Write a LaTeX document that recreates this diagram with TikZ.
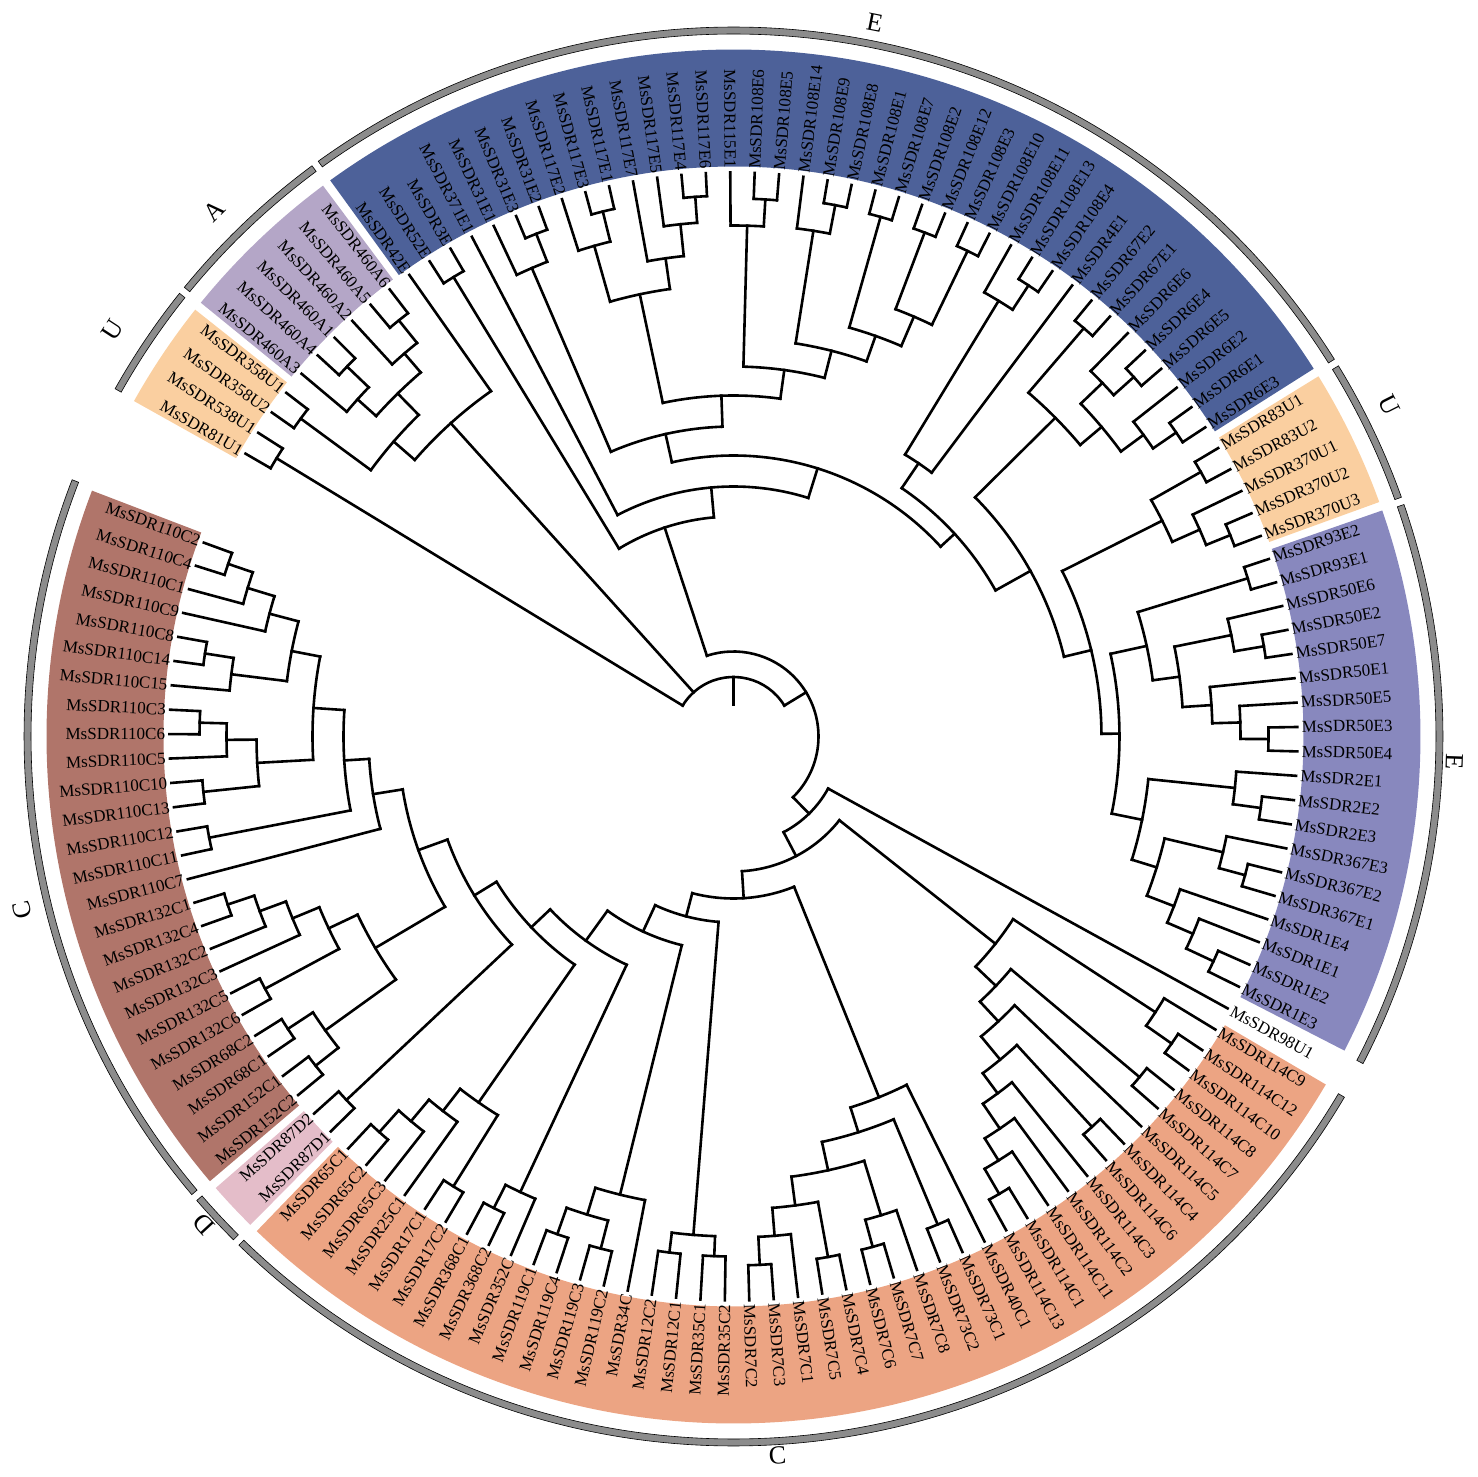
\documentclass[tikz,border=0pt]{standalone}
\usepackage{fontspec}
\setmainfont{Liberation Serif}
\definecolor{eDark}{HTML}{4D6199}
\definecolor{eLight}{HTML}{8888BE}
\definecolor{uOrange}{HTML}{FACFA0}
\definecolor{aLilac}{HTML}{B4A6C7}
\definecolor{cBrown}{HTML}{B0756A}
\definecolor{dPink}{HTML}{E4BDC9}
\definecolor{cSalmon}{HTML}{ECA483}
\definecolor{arcGrey}{HTML}{8C8C8C}
\def\tz{159.9}
\def\st{2.4823}
\def\px{0.5}
\def\rT{282}
\newcommand\ix[1]{\csname ix@#1\endcsname}
\newcommand\nd[5]{%
  \pgfmathsetmacro\ndA{\ix{#2}}%
  \pgfmathsetmacro\ndB{\ix{#3}}%
  \pgfmathsetmacro\ndM{(\ndA+\ndB)/2}%
  \expandafter\xdef\csname ix@#1\endcsname{\ndM}%
  \pgfmathsetmacro\angA{\tz+\st*\ndA}%
  \pgfmathsetmacro\angB{\tz+\st*\ndB}%
  \pgfmathsetmacro\angM{\tz+\st*\ndM}%
  \pgfmathsetmacro\rN{#4*\px}%
  \pgfmathsetmacro\rP{#5*\px}%
  \draw[branch] (\angA:\rN pt) arc[start angle=\angA, end angle=\angB, radius=\rN pt];
  \draw[branch] (\angM:\rN pt) -- (\angM:\rP pt);
  \ifcsname lf@#2\endcsname\draw[branch] (\angA:\rN pt) -- (\angA:\rT pt);\fi
  \ifcsname lf@#3\endcsname\draw[branch] (\angB:\rN pt) -- (\angB:\rT pt);\fi
}
\newcommand\band[3]{%
  \pgfmathsetmacro\angA{\tz+\st*(#1-0.35)}%
  \pgfmathsetmacro\angB{\tz+\st*(#2+0.35)}%
  \fill[#3] (\angA:285pt) arc[start angle=\angA, end angle=\angB, radius=285pt]
    -- (\angB:343.5pt) arc[start angle=\angB, end angle=\angA, radius=343.5pt] -- cycle;
}
\newcommand\garc[2]{%
  \pgfmathsetmacro\angA{\tz+\st*(#1-0.45)}%
  \pgfmathsetmacro\angB{\tz+\st*(#2+0.3)}%
  \filldraw[grey arc] (\angA:351.25pt) arc[start angle=\angA, end angle=\angB, radius=351.25pt]
    -- (\angB:354.75pt) arc[start angle=\angB, end angle=\angA, radius=354.75pt] -- cycle;
}
\begin{document}
\begin{tikzpicture}[line cap=rect,
  branch/.style={line width=1.3pt},
  leaf/.style={inner sep=0pt, font=\fontsize{8.5}{10}\selectfont},
  grp/.style={inner sep=0pt, font=\fontsize{13}{15}\selectfont},
  grey arc/.style={fill=arcGrey, draw=black, line width=0.3pt}]
\useasboundingbox (-366.75pt,-370.25pt) rectangle (371.75pt,368.25pt);
\foreach \i in {0,...,141}{%
  \expandafter\xdef\csname ix@\i\endcsname{\i}%
  \expandafter\gdef\csname lf@\i\endcsname{}}
\band{0}{24}{cBrown}
\band{25}{26}{dPink}
\band{27}{68}{cSalmon}
\band{70}{88}{eLight}
\band{89}{93}{uOrange}
\band{94}{131}{eDark}
\band{132}{137}{aLilac}
\band{138}{141}{uOrange}
\foreach \nm [count=\i from 0] in {110C2,110C4,110C1,110C9,110C8,110C14,110C15,110C3,110C6,110C5,
  110C10,110C13,110C12,110C11,110C7,132C1,132C4,132C2,132C3,132C5,132C6,68C2,68C1,152C1,152C2,
  87D2,87D1,65C1,65C2,65C3,25C1,17C1,17C2,368C1,368C2,352C,119C1,119C4,119C3,119C2,34C,12C2,12C1,
  35C1,35C2,7C2,7C3,7C1,7C5,7C4,7C6,7C7,7C8,73C2,73C1,40C1,114C13,114C1,114C11,114C2,114C3,
  114C6,114C4,114C5,114C7,114C8,114C10,114C12,114C9,98U1,1E3,1E2,1E1,1E4,367E1,367E2,367E3,
  2E3,2E2,2E1,50E4,50E3,50E5,50E1,50E7,50E2,50E6,93E1,93E2,370U3,370U2,370U1,83U2,83U1,
  6E3,6E1,6E2,6E5,6E4,6E6,67E1,67E2,4E1,108E4,108E13,108E11,108E10,108E3,108E12,108E2,108E7,
  108E1,108E8,108E9,108E14,108E5,108E6,115E1,117E6,117E4,117E5,117E7,117E1,117E3,117E2,31E2,
  31E3,31E1,371E1,3E,52E,42E,460A6,460A5,460A2,460A1,460A4,460A3,358U1,358U2,538U1,81U1}{%
  \pgfmathsetmacro\la{mod(\tz+\st*\i,360)}%
  \pgfmathtruncatemacro\fl{and(\la>90,\la<270)}%
  \ifnum\fl=1
    \node[leaf, anchor=east, rotate=\la+180] (l\i) at (\la:284pt) {MsSDR\nm};
  \else
    \node[leaf, anchor=west, rotate=\la] (l\i) at (\la:284pt) {MsSDR\nm};
  \fi}
\nd{b01}{0}{1}{534}{508}
\nd{b2}{b01}{2}{508}{480}
\nd{b3}{b2}{3}{480}{450}
\nd{b45}{4}{5}{535}{506}
\nd{b6}{b45}{6}{506}{450}
\nd{b36}{b3}{b6}{450}{421}
\nd{b78}{7}{8}{534}{507}
\nd{b9}{b78}{9}{507}{477}
\nd{b1011}{10}{11}{533}{477}
\nd{b911}{b9}{b1011}{477}{421}
\nd{ba}{b36}{b911}{421}{390}
\nd{b1213}{12}{13}{534}{390}
\nd{bb}{ba}{b1213}{390}{365}
\nd{bc}{bb}{14}{365}{335}
\nd{b1516}{15}{16}{533}{505}
\nd{b17}{b1516}{17}{505}{477}
\nd{b18}{b17}{18}{477}{448}
\nd{b1920}{19}{20}{532}{448}
\nd{b1820}{b18}{b1920}{448}{416}
\nd{b2122}{21}{22}{533}{503}
\nd{b2324}{23}{24}{532}{503}
\nd{b2124}{b2122}{b2324}{503}{416}
\nd{b1824}{b1820}{b2124}{416}{335}
\nd{bd}{bc}{b1824}{335}{304}
\nd{d}{25}{26}{531}{304}
\nd{bdx}{bd}{d}{304}{278}
\nd{p27}{27}{28}{531}{502}
\nd{n29}{p27}{29}{502}{474}
\nd{n30}{n29}{30}{474}{446}
\nd{p31}{31}{32}{530}{446}
\nd{n3032}{n30}{p31}{446}{278}
\nd{z1}{bdx}{n3032}{278}{252}
\nd{p33}{33}{34}{529}{503}
\nd{n35}{p33}{35}{503}{252}
\nd{z2}{z1}{n35}{252}{215}
\nd{p36}{36}{37}{528}{500}
\nd{p38}{38}{39}{529}{500}
\nd{n3639}{p36}{p38}{500}{472}
\nd{n40}{n3639}{40}{472}{215}
\nd{z3}{z2}{n40}{215}{186}
\nd{p41}{41}{42}{520}{500}
\nd{p43}{43}{44}{520}{500}
\nd{n4144}{p41}{p43}{500}{186}
\nd{z4}{z3}{n4144}{186}{162}
\nd{p45}{45}{46}{529}{501}
\nd{n47}{p45}{47}{501}{473}
\nd{p48}{48}{49}{529}{473}
\nd{n4749}{n47}{p48}{473}{444}
\nd{p50}{50}{51}{529}{501}
\nd{n52}{p50}{52}{501}{444}
\nd{c7}{n4749}{n52}{444}{415}
\nd{p53}{53}{54}{529}{415}
\nd{b7}{c7}{p53}{415}{389}
\nd{a7}{b7}{55}{389}{162}
\nd{al}{z4}{a7}{162}{135}
\nd{p56}{56}{57}{529}{500}
\nd{k6}{p56}{58}{500}{474}
\nd{k5}{k6}{59}{474}{444}
\nd{k4}{k5}{60}{444}{419}
\nd{p61}{61}{62}{530}{419}
\nd{k3}{k4}{p61}{419}{389}
\nd{k2}{k3}{63}{389}{362}
\nd{p64}{64}{65}{530}{362}
\nd{kc}{k2}{p64}{362}{334}
\nd{p66}{66}{67}{535}{504}
\nd{kd}{p66}{68}{504}{334}
\nd{k1}{kc}{kd}{334}{135}
\nd{a}{al}{k1}{135}{108}
\nd{u1}{a}{69}{108}{85}
\nd{p70}{70}{71}{530}{500}
\nd{n72}{p70}{72}{500}{472}
\nd{n73}{n72}{73}{472}{443}
\nd{p74}{74}{75}{530}{503}
\nd{n76}{p74}{76}{503}{443}
\nd{n7376}{n73}{n76}{443}{417}
\nd{p77}{77}{78}{532}{504}
\nd{n79}{p77}{79}{504}{417}
\nd{n7379}{n7376}{n79}{417}{386}
\nd{p80}{80}{81}{535}{507}
\nd{n82}{p80}{82}{507}{479}
\nd{n83}{n82}{83}{479}{450}
\nd{p84}{84}{85}{538}{508}
\nd{n86}{p84}{86}{508}{450}
\nd{n8386}{n83}{n86}{450}{423}
\nd{p87}{87}{88}{538}{423}
\nd{n88}{n8386}{p87}{423}{386}
\nd{le}{n7379}{n88}{386}{368}
\nd{p89}{89}{90}{536}{510}
\nd{n91}{p89}{91}{510}{480}
\nd{p92}{92}{93}{537}{480}
\nd{ucl}{n91}{p92}{480}{368}
\nd{ul}{le}{ucl}{368}{340}
\nd{p94}{94}{95}{537}{509}
\nd{n96}{p94}{96}{509}{481}
\nd{p97}{97}{98}{538}{511}
\nd{n99}{p97}{99}{511}{481}
\nd{n9699}{n96}{n99}{481}{453}
\nd{p100}{100}{101}{538}{453}
\nd{n100}{n9699}{p100}{453}{340}
\nd{m}{ul}{n100}{340}{300}
\nd{p103}{103}{104}{539}{510}
\nd{n105}{p103}{105}{510}{330}
\nd{g1}{102}{n105}{330}{300}
\nd{e2r}{m}{g1}{300}{281}
\nd{p106}{106}{107}{539}{457}
\nd{p108}{108}{109}{539}{457}
\nd{q}{p106}{p108}{457}{425}
\nd{p110}{110}{111}{540}{425}
\nd{v}{q}{p110}{425}{398}
\nd{p112}{112}{113}{541}{512}
\nd{n114}{p112}{114}{512}{398}
\nd{w}{v}{n114}{398}{370}
\nd{p115}{115}{116}{538}{511}
\nd{n117}{p115}{117}{511}{370}
\nd{y}{w}{n117}{370}{341}
\nd{pc}{118}{119}{541}{515}
\nd{pd}{pc}{120}{515}{483}
\nd{pe}{121}{pd}{483}{452}
\nd{pa}{122}{123}{541}{510}
\nd{pb}{pa}{124}{510}{452}
\nd{x}{pe}{pb}{452}{341}
\nd{e4}{y}{x}{341}{310}
\nd{e31}{125}{126}{540}{510}
\nd{e127}{e31}{127}{510}{310}
\nd{e3}{e4}{e127}{310}{281}
\nd{e2}{e2r}{e3}{281}{250}
\nd{e2b}{e2}{128}{250}{220}
\nd{e3e}{129}{130}{538}{220}
\nd{e1}{e2b}{e3e}{220}{85}
\nd{t}{u1}{e1}{85}{59.5}
\nd{a56}{132}{133}{534}{505}
\nd{a2}{a56}{134}{505}{480}
\nd{a14}{135}{136}{535}{505}
\nd{a3}{a14}{137}{505}{480}
\nd{aall}{a2}{a3}{480}{450}
\nd{u358}{138}{139}{537}{450}
\nd{s}{aall}{u358}{450}{422}
\nd{r}{131}{s}{422}{59.5}
\nd{u81}{140}{141}{535}{59.5}
\pgfmathsetmacro\angA{\tz+\st*\ix{t}}
\pgfmathsetmacro\angB{\tz+\st*\ix{u81}}
\pgfmathsetmacro\angM{(\angA+\angB)/2}
\draw[branch] (\angA:29.75pt) arc[start angle=\angA, end angle=\angB, radius=29.75pt];
\draw[branch] (\angM:16pt) -- (\angM:29.75pt);
\garc{0}{24}
\garc{25}{26}
\garc{27}{68}
\garc{70}{88}
\garc{89}{93}
\garc{94}{131}
\garc{132}{137}
\garc{138}{141}
\node[grp, rotate=-11.2] (gE1) at (78.8:364pt) {E};
\node[grp, rotate=-63.2] (gU1) at (26.8:367.5pt) {U};
\node[grp, rotate=-92] (gE2) at (-2:361pt) {E};
\node[grp, rotate=3.5] (gC1) at (-86.5:360pt) {C};
\node[grp, rotate=132.7] (gD) at (222.7:360pt) {D};
\node[grp, rotate=103.7] (gC2) at (193.7:366pt) {C};
\node[grp, rotate=56.8] (gU2) at (146.8:371pt) {U};
\node[grp, rotate=44.6] (gA) at (134.6:369.5pt) {A};
\end{tikzpicture}
\end{document}
